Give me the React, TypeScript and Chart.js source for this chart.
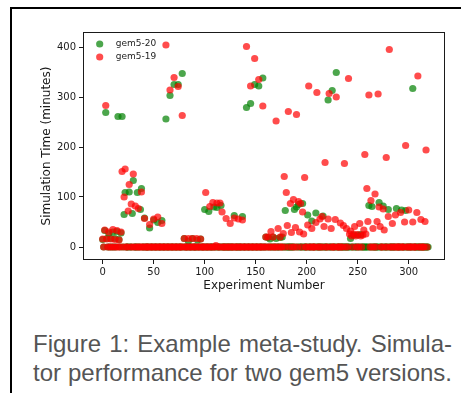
import React, { useEffect, useRef } from "react";
import { Chart, registerables } from "chart.js";

Chart.register(...registerables);

// ---- data ----
const seriesNames = ["gem5-20", "gem5-19"];
const gem520Count = 320; // experiments 0..319 (baseline value 0)
const gem519Count = 319; // experiments 0..318 (baseline value 0)

// gem5-20 : experiments with non-zero simulation time [experiment, minutes]
const gem520Nonzero: [number, number][] = [
  [0, 15], [2, 33], [3, 269], [4, 17], [6, 27], [8, 17], [10, 30], [12, 17], [14, 31], [15, 261], [16, 15], [18, 28], [19, 261],
  [21, 65], [22, 109], [26, 110], [29, 67], [30, 133], [34, 109], [37, 75], [38, 117],
  [41, 58], [46, 38], [50, 54], [54, 49], [58, 53],
  [62, 256], [66, 303], [70, 325], [74, 325], [78, 347],
  [80, 17], [84, 12], [88, 17], [93, 14], [96, 16],
  [100, 75], [104, 71], [109, 80], [112, 79], [116, 83], [129, 63], [137, 61],
  [141, 279], [145, 287], [149, 325], [153, 322], [157, 338],
  [160, 20], [162, 19], [164, 16], [167, 20], [170, 17], [174, 19], [176, 20],
  [179, 73], [188, 75], [190, 80], [192, 85], [196, 87],
  [201, 64], [205, 52], [209, 68], [216, 62], [221, 294], [225, 313], [229, 349],
  [243, 17], [246, 24], [250, 24], [253, 25],
  [261, 83], [264, 81], [271, 89], [275, 82], [280, 75], [288, 77], [293, 74], [297, 73], [304, 317],
];

// gem5-19 : experiments with non-zero simulation time [experiment, minutes]
const gem519Nonzero: [number, number][] = [
  [0, 16], [2, 34], [3, 283], [4, 16], [6, 30], [8, 16], [10, 35], [12, 15], [14, 33], [16, 14], [18, 30],
  [19, 151], [21, 100], [22, 156], [25, 72], [26, 125], [28, 86], [30, 146], [32, 82], [35, 77], [38, 110],
  [41, 57], [46, 45], [50, 56], [54, 60], [58, 47],
  [62, 404], [66, 314], [70, 339], [74, 321], [78, 263],
  [80, 17], [84, 17], [88, 17], [92, 17], [96, 16],
  [101, 109], [105, 81], [108, 89], [111, 3], [112, 88], [115, 88], [117, 70], [121, 57], [125, 47], [129, 58], [133, 56], [137, 54],
  [141, 401], [145, 322], [149, 377], [153, 335], [157, 282],
  [160, 20], [162, 20], [165, 31], [167, 20], [170, 252], [172, 37], [174, 20], [177, 27], [178, 141],
  [180, 109], [181, 43], [182, 271], [184, 87], [185, 29], [187, 95], [189, 39], [190, 265],
  [192, 91], [193, 30], [194, 87], [196, 70], [197, 26], [198, 139],
  [201, 44], [202, 322], [205, 37], [209, 49], [210, 309], [213, 56], [215, 61], [217, 41], [218, 169],
  [221, 56], [222, 307], [224, 37], [228, 55], [229, 300], [233, 48], [236, 43], [237, 167],
  [239, 37], [241, 337], [242, 26], [243, 32], [244, 22], [246, 26], [247, 41], [248, 22], [250, 25],
  [252, 47], [253, 22], [255, 24], [256, 34], [257, 185], [258, 26],
  [259, 117], [260, 51], [261, 304], [263, 93], [265, 37], [267, 106], [269, 51], [270, 306], [271, 80],
  [272, 41], [275, 76], [276, 34], [278, 179], [280, 61], [281, 395], [284, 47], [287, 64], [292, 69],
  [296, 50], [297, 203], [300, 74], [304, 50], [308, 69], [309, 342], [312, 55], [316, 51], [317, 194],
];

const xTickValues = [0, 50, 100, 150, 200, 250, 300];
const yTickValues = [0, 100, 200, 300, 400];
const xLimits = [-19.3, 335.6];
const yLimits = [-26, 430];

const xTitle = "Experiment Number";
const yTitle = "Simulation Time (minutes)";
const captionLines = ["Figure 1: Example meta-study. Simula-", "tor performance for two gem5 versions."];

const green = "rgba(0,128,0,0.7)";
const red = "rgba(255,0,0,0.7)";

function buildSeries(count: number, nonzero: [number, number][]) {
  const lookup = new Map<number, number>(nonzero);
  const pts: { x: number; y: number }[] = [];
  for (let i = 0; i < count; i++) pts.push({ x: i, y: lookup.has(i) ? (lookup.get(i) as number) : 0 });
  return pts;
}

const boxAndLegend = {
  id: "boxAndLegend",
  afterDatasetsDraw(chart: any) {
    const { ctx, chartArea: a } = chart;
    ctx.save();
    ctx.strokeStyle = "#1a1a1a";
    ctx.lineWidth = 1;
    ctx.strokeRect(Math.round(a.left) + 0.5, Math.round(a.top) + 0.5, Math.round(a.right - a.left) - 1, Math.round(a.bottom - a.top) - 1);
    // legend (gem5-20 first, then gem5-19)
    const ds = chart.data.datasets;
    const order = [1, 0];
    order.forEach((di: number, i: number) => {
      const cy = a.top + 12 + i * 13;
      ctx.beginPath();
      ctx.arc(a.left + 16.7, cy, 3.6, 0, Math.PI * 2);
      ctx.fillStyle = ds[di].backgroundColor;
      ctx.fill();
      ctx.font = '9px "DejaVu Sans"';
      ctx.fillStyle = "#222";
      ctx.textBaseline = "middle";
      ctx.textAlign = "left";
      ctx.fillText(ds[di].label, a.left + 32.7, cy);
    });
    ctx.restore();
  },
};

export default function App() {
  const ref = useRef<HTMLCanvasElement | null>(null);

  useEffect(() => {
    if (!ref.current) return;
    const tickFont = { family: "DejaVu Sans", size: 10 };
    const titleFont = { family: "DejaVu Sans", size: 12 };
    const chart = new Chart(ref.current, {
      type: "scatter",
      data: {
        datasets: [
          {
            label: seriesNames[1],
            data: buildSeries(gem519Count, gem519Nonzero),
            backgroundColor: red,
            borderWidth: 0,
            pointRadius: 3.6,
            pointHoverRadius: 3.6,
          },
          {
            label: seriesNames[0],
            data: buildSeries(gem520Count, gem520Nonzero),
            backgroundColor: green,
            borderWidth: 0,
            pointRadius: 3.6,
            pointHoverRadius: 3.6,
          },
        ],
      },
      options: {
        animation: false,
        responsive: false,
        devicePixelRatio: 1,
        layout: { padding: { left: 36, right: 16, top: 32, bottom: 3 } },
        plugins: { legend: { display: false }, tooltip: { enabled: false } },
        scales: {
          x: {
            type: "linear",
            min: xLimits[0],
            max: xLimits[1],
            afterBuildTicks: (s: any) => {
              s.ticks = xTickValues.map((v) => ({ value: v }));
            },
            afterFit: (s: any) => {
              s.height = 37;
            },
            grid: { drawOnChartArea: false, drawTicks: true, tickLength: 4, color: "#1a1a1a" },
            border: { display: false },
            ticks: { font: tickFont, color: "#1a1a1a", padding: 2, maxRotation: 0, autoSkip: false },
            title: { display: true, text: xTitle, font: titleFont, color: "#1a1a1a", padding: { top: 4, bottom: 4 } },
          },
          y: {
            type: "linear",
            min: yLimits[0],
            max: yLimits[1],
            afterBuildTicks: (s: any) => {
              s.ticks = yTickValues.map((v) => ({ value: v }));
            },
            afterFit: (s: any) => {
              s.width = 47;
            },
            grid: { drawOnChartArea: false, drawTicks: true, tickLength: 4, color: "#1a1a1a" },
            border: { display: false },
            ticks: { font: tickFont, color: "#1a1a1a", padding: 3, autoSkip: false },
            title: { display: true, text: yTitle, font: titleFont, color: "#1a1a1a", padding: { top: 4, bottom: 4 } },
          },
        },
      },
      plugins: [boxAndLegend],
    } as any);
    return () => chart.destroy();
  }, []);

  return (
    <div style={{ position: "absolute", left: 0, top: 0, width: 461, height: 393, overflow: "hidden", background: "#fff" }}>
      <div
        style={{
          position: "absolute",
          left: 10,
          top: 7,
          width: 480,
          height: 420,
          borderLeft: "2px solid #000",
          borderTop: "2px solid #000",
        }}
      />
      <canvas ref={ref} width={461} height={300} style={{ position: "absolute", left: 0, top: 0, width: 461, height: 300 }} />
      {captionLines.map((line, i) => (
        <div
          key={i}
          style={{
            position: "absolute",
            left: 33,
            top: 330 + i * 29,
            width: 419,
            fontFamily: '"Liberation Sans", Arial, sans-serif',
            fontSize: 24,
            lineHeight: "28px",
            color: "#555",
            whiteSpace: "nowrap",
            textAlign: "justify",
            textAlignLast: "justify",
          }}
        >
          {line}
        </div>
      ))}
    </div>
  );
}
